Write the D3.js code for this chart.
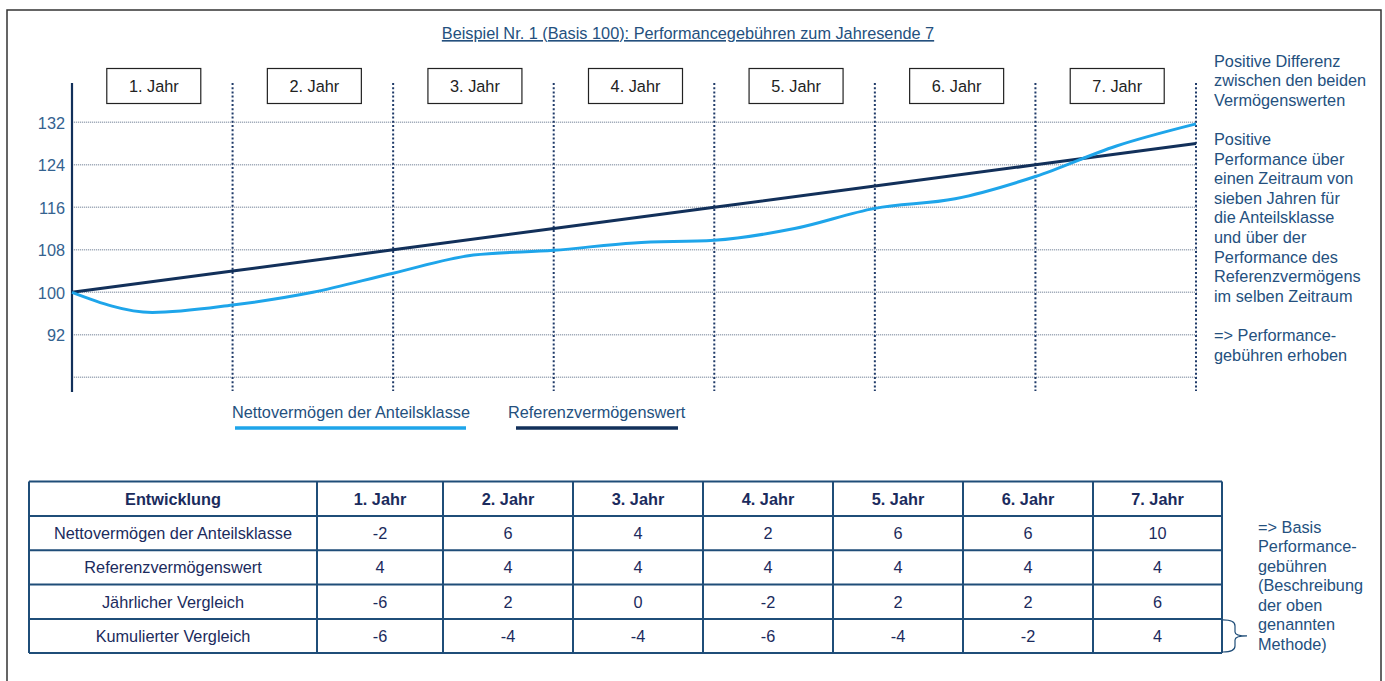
<!DOCTYPE html>
<html><head><meta charset="utf-8">
<script src="https://cdn.jsdelivr.net/npm/d3@7"></script>
<style>
html,body{margin:0;padding:0;background:#fff;}
svg{display:block;font-family:"Liberation Sans",Arial,sans-serif;}
</style></head>
<body>
<svg id="chart" width="1385" height="681"></svg>
<script>
// ---------- data ----------
const title = "Beispiel Nr. 1 (Basis 100): Performancegebühren zum Jahresende 7";
const yearLabels = ["1. Jahr","2. Jahr","3. Jahr","4. Jahr","5. Jahr","6. Jahr","7. Jahr"];
const yTicks = [92,100,108,116,124,132];
const gridValues = [84,92,100,108,116,124,132];
// Referenzvermögenswert at each year end (t = 0..7)
const refT = [0,1,2,3,4,5,6,7];
const refValues = [100,104,108,112,116,120,124,128];
// Nettovermögen read at half-year steps
const netT = [0,0.5,1,1.5,2,2.5,3,3.5,4,4.5,5,5.5,6,6.5,7];
const netValues = [100,96.2,97.6,100,103.6,107,107.9,109.3,109.8,112,115.8,117.6,121.8,127.5,131.7];
const legendLabels = ["Nettovermögen der Anteilsklasse","Referenzvermögenswert"];
const noteTop = ["Positive Differenz","zwischen den beiden","Vermögenswerten","","Positive","Performance über","einen Zeitraum von","sieben Jahren für","die Anteilsklasse","und über der","Performance des","Referenzvermögens","im selben Zeitraum","","=> Performance-","gebühren erhoben"];
const tableHeader = ["Entwicklung","1. Jahr","2. Jahr","3. Jahr","4. Jahr","5. Jahr","6. Jahr","7. Jahr"];
const rowLabels = ["Nettovermögen der Anteilsklasse","Referenzvermögenswert","Jährlicher Vergleich","Kumulierter Vergleich"];
const netChange = [-2,6,4,2,6,6,10];
const refChange = [4,4,4,4,4,4,4];
const annualComp = [-6,2,0,-2,2,2,6];
const cumComp = [-6,-4,-4,-6,-4,-2,4];
const noteBottom = ["=> Basis","Performance-","gebühren","(Beschreibung","der oben","genannten","Methode)"];

// ---------- colours ----------
const navy = "#12305a", blue = "#1ea5ea", textBlue = "#24507e", tickBlue = "#34628f", grid = "#a3adbb", tableLine = "#1f4d78", tableText = "#1b2b5d";
const FS = 16.3;

const svg = d3.select("#chart");

// outer frame
svg.append("rect").attr("x",7).attr("y",10).attr("width",1374).attr("height",700)
  .attr("fill","none").attr("stroke","#333").attr("stroke-width",1.5);

// title
svg.append("text").attr("x",688).attr("y",39).attr("text-anchor","middle")
  .attr("font-size",FS).attr("fill",textBlue).attr("text-decoration","underline").text(title);

// scales
const x = d3.scaleLinear().domain([0,7]).range([72,1196]);
const y = d3.scaleLinear().domain([84,132]).range([377.3,122.3]);

// gridlines
svg.append("g").selectAll("line").data(gridValues).join("line")
  .attr("x1",72).attr("x2",1197).attr("y1",d=>y(d)).attr("y2",d=>y(d))
  .attr("stroke",grid).attr("stroke-width",1.6).attr("stroke-dasharray","1.2,0.8");

// y axis via d3.axisLeft
const yAxis = d3.axisLeft(y).tickValues(yTicks).tickSize(0).tickPadding(7).tickFormat(d3.format("d"));
const ga = svg.append("g").attr("transform","translate(72,0)").call(yAxis);
ga.select(".domain").remove();
ga.selectAll("text").attr("font-size",FS).attr("fill",tickBlue).attr("dy","0.35em").attr("font-family","Liberation Sans, Arial, sans-serif");
svg.append("line").attr("x1",72).attr("x2",72).attr("y1",83).attr("y2",392)
  .attr("stroke",navy).attr("stroke-width",2.2);

// year dividers
svg.append("g").selectAll("line").data(d3.range(1,8)).join("line")
  .attr("x1",d=>x(d)).attr("x2",d=>x(d)).attr("y1",83).attr("y2",391)
  .attr("stroke","#1f3a68").attr("stroke-width",2).attr("stroke-dasharray","2,2.2");

// year boxes
const boxes = svg.append("g").selectAll("g").data(yearLabels).join("g")
  .attr("transform",(d,i)=>`translate(${x(i+0.5)+1.5},0)`);
boxes.append("rect").attr("x",-47).attr("y",68.5).attr("width",94).attr("height",35)
  .attr("fill","#fff").attr("stroke","#222").attr("stroke-width",1.2);
boxes.append("text").attr("x",0).attr("y",91.8).attr("text-anchor","middle")
  .attr("font-size",FS).attr("fill","#222").text(d=>d);

// lines
const refData = refT.map((t,i)=>({t,v:refValues[i]}));
const netData = netT.map((t,i)=>({t,v:netValues[i]}));
svg.append("path").datum(refData)
  .attr("d",d3.line().x(d=>x(d.t)).y(d=>y(d.v)))
  .attr("fill","none").attr("stroke",navy).attr("stroke-width",3);
svg.append("path").datum(netData)
  .attr("d",d3.line().curve(d3.curveMonotoneX).x(d=>x(d.t)).y(d=>y(d.v)))
  .attr("fill","none").attr("stroke",blue).attr("stroke-width",3);

// legend
const leg = [{label:legendLabels[0],color:blue,tx:232,lx1:235,lx2:466},
             {label:legendLabels[1],color:navy,tx:508,lx1:516,lx2:678}];
const lg = svg.append("g").selectAll("g").data(leg).join("g");
lg.append("text").attr("x",d=>d.tx).attr("y",418).attr("font-size",FS).attr("fill",textBlue).text(d=>d.label);
lg.append("line").attr("x1",d=>d.lx1).attr("x2",d=>d.lx2).attr("y1",428).attr("y2",428)
  .attr("stroke",d=>d.color).attr("stroke-width",3.5);

// right note
svg.append("g").selectAll("text").data(noteTop).join("text")
  .attr("x",1214).attr("y",(d,i)=>66.5+i*19.6).attr("font-size",FS).attr("fill",textBlue).text(d=>d);

// table
const colX = [29,317,443,573,703,833,963,1093,1222];
const rowY = [481.5,516,550.3,584.6,618.9,653];
const tableRows = [netChange,refChange,annualComp,cumComp];
const tg = svg.append("g");
tg.selectAll("line.h").data(rowY).join("line").attr("class","h")
  .attr("x1",colX[0]).attr("x2",colX[colX.length-1]).attr("y1",d=>d).attr("y2",d=>d)
  .attr("stroke",tableLine).attr("stroke-width",2);
tg.selectAll("line.v").data(colX).join("line").attr("class","v")
  .attr("x1",d=>d).attr("x2",d=>d).attr("y1",rowY[0]).attr("y2",rowY[rowY.length-1])
  .attr("stroke",tableLine).attr("stroke-width",2);
tg.selectAll("text.hd").data(tableHeader).join("text").attr("class","hd")
  .attr("x",(d,i)=>(colX[i]+colX[i+1])/2).attr("y",(rowY[0]+rowY[1])/2+5.8)
  .attr("text-anchor","middle").attr("font-size",FS).attr("font-weight","bold").attr("fill",tableText).text(d=>d);
tableRows.forEach((vals,r)=>{
  const cells = [rowLabels[r]].concat(vals.map(String));
  tg.selectAll(null).data(cells).join("text")
    .attr("x",(d,i)=>(colX[i]+colX[i+1])/2).attr("y",(rowY[r+1]+rowY[r+2])/2+5.8)
    .attr("text-anchor","middle").attr("font-size",FS).attr("fill",tableText).text(d=>d);
});

// brace
const b0 = rowY[4]+1, b1 = rowY[5]-1, bm = (b0+b1)/2;
svg.append("path")
  .attr("d",`M1223,${b0} Q1235,${b0} 1235,${b0+6} L1235,${bm-4} Q1235,${bm} 1247,${bm} Q1235,${bm} 1235,${bm+4} L1235,${b1-6} Q1235,${b1} 1223,${b1}`)
  .attr("fill","none").attr("stroke",tableLine).attr("stroke-width",1.2);

// bottom note
svg.append("g").selectAll("text").data(noteBottom).join("text")
  .attr("x",1258).attr("y",(d,i)=>532.5+i*19.5).attr("font-size",FS).attr("fill",textBlue).text(d=>d);
</script>
</body></html>
